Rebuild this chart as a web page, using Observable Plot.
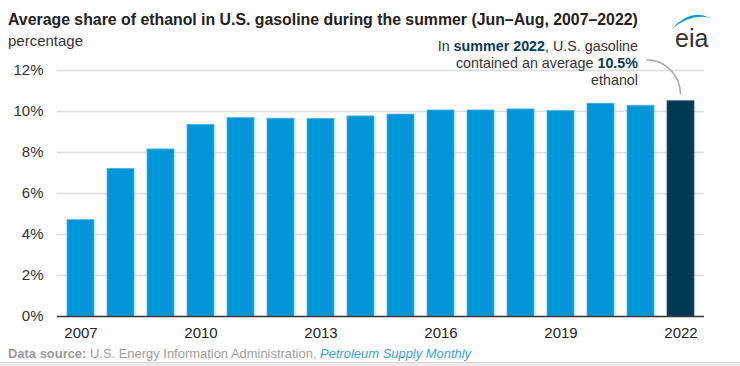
<!DOCTYPE html>
<html>
<head>
<meta charset="utf-8">
<script src="https://cdn.jsdelivr.net/npm/d3@7"></script>
<script src="https://cdn.jsdelivr.net/npm/@observablehq/plot@0.6"></script>
<style>
  html, body { margin: 0; padding: 0; background: #fff; }
  #wrap { position: relative; width: 740px; height: 366px; overflow: hidden; font-family: "Liberation Sans", Arial, sans-serif; color: #333; }
  #title { position: absolute; left: 8px; top: 10px; font-size: 15.85px; font-weight: bold; color: #222; white-space: nowrap; line-height: 20px; }
  #subtitle { position: absolute; left: 8px; top: 31px; font-size: 15px; color: #333; line-height: 20px; }
  #chart { position: absolute; left: 0; top: 50px; }
  #note { position: absolute; right: 102px; top: 38px; font-size: 14.3px; line-height: 17px; text-align: right; color: #333; white-space: nowrap; }
  #note b { color: #0b3a57; }
  #source { position: absolute; left: 8px; top: 346px; font-size: 12.95px; color: #a0a0a0; white-space: nowrap; line-height: 16px; }
  #source b { color: #9a9a9a; }
  #source i { color: #3b9fd6; }
  #band { position: absolute; left: 0; top: 362px; width: 740px; height: 4px; background: #ececec; border-top: 1px solid #d8d8d8; }
  #logo { position: absolute; left: 660px; top: 0; }
</style>
</head>
<body>
<div id="wrap">
  <div id="title">Average share of ethanol in U.S. gasoline during the summer (Jun–Aug, 2007–2022)</div>
  <div id="subtitle">percentage</div>
  <div id="chart"></div>
  <div id="note">In <b>summer 2022</b>, U.S. gasoline<br>contained an average <b>10.5%</b><br>ethanol</div>
  <svg id="logo" width="80" height="60">
    <path d="M12,29 Q30,8 50,18 Q31,13 12,29 Z" fill="#0096d7"/>
    <text x="15" y="47" font-family="Liberation Sans, Arial, sans-serif" font-size="25" fill="#333">eia</text>
  </svg>
  <div id="source"><b>Data source:</b> U.S. Energy Information Administration, <i>Petroleum Supply Monthly</i></div>
  <div id="band"></div>
</div>
<script>
const years = ["2007","2008","2009","2010","2011","2012","2013","2014","2015","2016","2017","2018","2019","2020","2021","2022"];
const ethanolShare = [4.7, 7.2, 8.15, 9.35, 9.68, 9.65, 9.64, 9.76, 9.85, 10.05, 10.05, 10.1, 10.02, 10.38, 10.28, 10.5];
const highlightYear = "2022";
const yTicks = [0, 2, 4, 6, 8, 10, 12];
const xTickLabels = ["2007", "2010", "2013", "2016", "2019", "2022"];

const data = years.map((year, i) => ({year, value: ethanolShare[i]}));
const blue = "#0096d7";
const dark = "#003953";

const svg = Plot.plot({
  width: 740,
  height: 296,
  marginTop: 20,
  marginBottom: 30,
  marginLeft: 57,
  marginRight: 36,
  style: {fontFamily: "'Liberation Sans', Arial, sans-serif", fontSize: "15px", color: "#333", background: "transparent", overflow: "visible"},
  x: {type: "band", domain: years, paddingInner: 0.33, paddingOuter: 0.165, label: null},
  y: {domain: [0, 12], label: null},
  marks: [
    Plot.ruleY(yTicks.filter(d => d > 0), {stroke: "#dcdcdc", strokeWidth: 1.3}),
    Plot.barY(data.filter(d => d.year !== highlightYear), {x: "year", y: "value", fill: blue, stroke: "#4fb3e6", strokeWidth: 0.8}),
    Plot.barY(data.filter(d => d.year === highlightYear), {x: "year", y: "value", fill: dark, stroke: "#2f5f7a", strokeWidth: 0.8}),
    Plot.ruleY([0], {stroke: "#333", strokeWidth: 1.6}),
    Plot.axisY({ticks: yTicks, tickFormat: d => d + "%", tickSize: 0, tickPadding: 14, fontSize: 15, fill: "#333"}),
    Plot.axisX({ticks: xTickLabels, tickSize: 0, tickPadding: 11, fontSize: 15, fill: "#222"})
  ]
});
document.getElementById("chart").appendChild(svg);

// connector from annotation to highlighted bar, positioned through the plot's scales
const xs = svg.scale("x");
const ys = svg.scale("y");
const hv = ethanolShare[years.indexOf(highlightYear)];
const ex = xs.apply(highlightYear) + xs.bandwidth / 2;
const ey = ys.apply(hv) - 6;
const sx = ex - 34, sy = ey - 35;
d3.select(svg).append("path")
  .attr("d", `M${sx},${sy} A34,35 0 0 1 ${ex},${ey}`)
  .attr("fill", "none")
  .attr("stroke", "#a8a8a8")
  .attr("stroke-width", 1.5);
</script>
</body>
</html>
